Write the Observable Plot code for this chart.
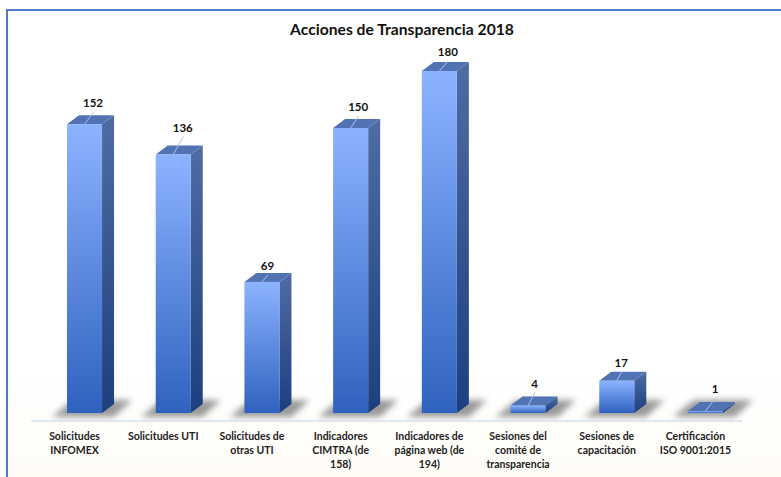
<!DOCTYPE html>
<html lang="es"><head><meta charset="utf-8">
<script src="https://cdn.jsdelivr.net/npm/d3@7"></script>
<script src="https://cdn.jsdelivr.net/npm/@observablehq/plot@0.6"></script>
<style>
html,body{margin:0;padding:0;background:#fff;overflow:hidden;width:781px;height:477px}
#frame{position:absolute;left:6px;top:9px;width:790px;height:490px;border:2px solid #4f7ac6;background:linear-gradient(180deg,#fff 75%,#fffcf5 100%);box-sizing:border-box}
#title{position:absolute;left:0;width:804px;top:20px;text-align:center;font:bold 15.7px Lato,sans-serif;color:#111}
#chart{position:absolute;left:0;top:0}
#chart svg{background:none}
</style></head><body>
<div id="frame"></div>
<div id="chart"></div>
<div id="title">Acciones de Transparencia 2018</div>
<script>
const categories = ["Solicitudes\nINFOMEX","Solicitudes UTI","Solicitudes de\notras UTI","Indicadores\nCIMTRA (de\n158)","Indicadores de\npágina web (de\n194)","Sesiones del\ncomité de\ntransparencia","Sesiones de\ncapacitación","Certificación\nISO 9001:2015"];
const values = [152,136,69,150,180,4,17,1];
// layout of the value labels, relative to the top of each bar (pixels)
const labelDx = [9,10,6,8,9,7,5,10];
const labelLift = [21,27,16,21,19,22,18,22];
const depthX = 12, depthY = 9;
const data = categories.map((c,i)=>({c,v:values[i],i}));

function defs(){
  const g = d3.create("svg:g");
  const d = g.append("defs");
  const grad=(id,a,b)=>{const l=d.append("linearGradient").attr("id",id).attr("x1",0).attr("x2",0).attr("y1",0).attr("y2",1);
    l.append("stop").attr("offset","0").attr("stop-color",a);l.append("stop").attr("offset","1").attr("stop-color",b);};
  grad("front","#8cb3ff","#2f62bf");
  grad("side","#4f6ca3","#1c3f7f");
  d.append("filter").attr("id","soft").attr("x","-20%").attr("y","-40%").attr("width","140%").attr("height","180%")
   .append("feGaussianBlur").attr("stdDeviation",3);
  return g.node();
}
function shadows(index,{x,y}){
  const g=d3.create("svg:g").attr("filter","url(#soft)").attr("fill","#9a9a9a");
  const y0=y(0), w=x.bandwidth();
  for(const d of data){const l=x(d.c);
    g.append("path").attr("d",`M${l-15},${y0+4}L${l+w+12},${y0+4}L${l+w+30},${y0-13}L${l+6},${y0-13}Z`);}
  return g.node();
}
function faces(index,{x,y}){
  const g=d3.create("svg:g");
  const y0=y(0), w=x.bandwidth();
  for(const d of data){const l=x(d.c), r=l+w, t=y(d.v);
    g.append("path").attr("fill","url(#side)").attr("d",`M${r},${t}L${r+depthX},${t-depthY}L${r+depthX},${y0-depthY}L${r},${y0}Z`);
    g.append("path").attr("fill","#5273b3").attr("d",`M${l},${t}L${l+depthX},${t-depthY}L${r+depthX},${t-depthY}L${r},${t}Z`);
  }
  return g.node();
}
function leaders(index,{x,y}){
  const g=d3.create("svg:g").attr("stroke-width",1);
  const w=x.bandwidth();
  for(const d of data){const c=x(d.c)+w/2, t=y(d.v);
    g.append("line").attr("stroke","#a9bfe6").attr("x1",c).attr("y1",t).attr("x2",c+labelDx[d.i]).attr("y2",t-labelLift[d.i]+9);}
  return g.node();
}
const chart = Plot.plot({
  width:781,height:477,marginLeft:67,marginRight:58,marginTop:33,marginBottom:64,
  style:{fontFamily:"Lato, sans-serif",background:"none"},
  x:{domain:categories,paddingInner:0.605,paddingOuter:0,round:false,label:null},
  y:{domain:[0,200],axis:null,label:null},
  marks:[
    defs,
    shadows,
    Plot.ruleY([0],{stroke:"#d5e2f2",strokeWidth:1.5,dy:7.5,dx:-9,insetLeft:-27,insetRight:-28}),
    faces,
    Plot.barY(data,{x:"c",y:"v",fill:"url(#front)"}),
    leaders,
    ...data.map(d=>Plot.text([d],{x:"c",y:"v",text:"v",dx:labelDx[d.i]-1,dy:-labelLift[d.i],fontSize:11.5,fontWeight:"bold",fill:"#111"})),
    Plot.axisX({anchor:"bottom",tickSize:0,tickPadding:16,dx:-10.5,label:null,fontSize:10.5,fontWeight:"bold",lineHeight:1.36,fill:"#222"})
  ]
});
document.getElementById("chart").append(chart);
</script></body></html>
